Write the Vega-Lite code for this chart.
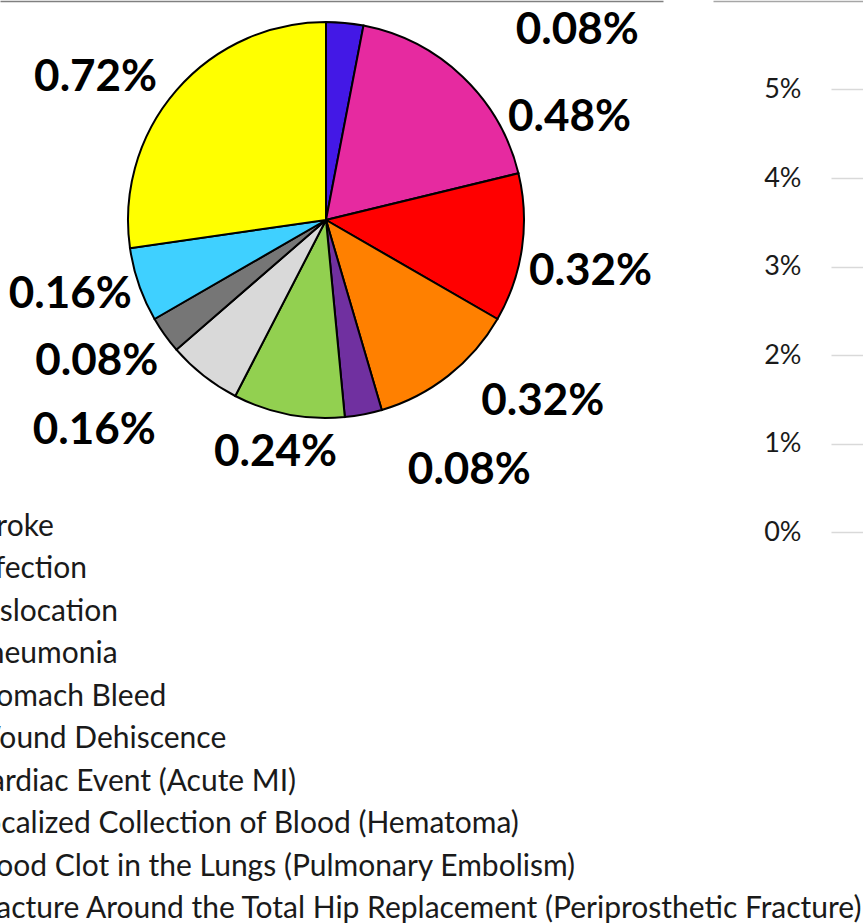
{
  "$schema": "https://vega.github.io/schema/vega-lite/v6.json",
  "padding": 0,
  "bounds": "flush",
  "spacing": 831,
  "config": {"view": {"stroke": null}, "font": "Lato"},
  "datasets": {
    "pie": [
      {"order": 1, "name": "Stroke", "value": 0.0008},
      {"order": 2, "name": "Infection", "value": 0.0048},
      {"order": 3, "name": "Dislocation", "value": 0.0032},
      {"order": 4, "name": "Pneumonia", "value": 0.0032},
      {"order": 5, "name": "Stomach Bleed", "value": 0.0008},
      {"order": 6, "name": "Wound Dehiscence", "value": 0.0024},
      {"order": 7, "name": "Cardiac Event (Acute MI)", "value": 0.0016},
      {"order": 8, "name": "Localized Collection of Blood (Hematoma)", "value": 0.0008},
      {"order": 9, "name": "Blood Clot in the Lungs (Pulmonary Embolism)", "value": 0.0016},
      {"order": 10, "name": "Fracture Around the Total Hip Replacement (Periprosthetic Fracture)", "value": 0.0072}
    ],
    "empty": []
  },
  "hconcat": [
    {
      "bounds": "flush",
      "spacing": 0,
      "vconcat": [
        {
          "width": 652, "height": 440,
          "layer": [
            {
              "data": {"name": "empty"},
              "mark": "point",
              "encoding": {"x": {"field": "v", "type": "quantitative", "scale": {"domain": [0, 1], "range": [0, 663]},
                "axis": {"orient": "top", "offset": -1, "labels": false, "ticks": false, "grid": false, "title": null, "domainColor": "#808080", "domainWidth": 1.5}}}
            },
            {
              "data": {"name": "pie"},
              "encoding": {
                "theta": {"field": "value", "type": "quantitative", "stack": true},
                "order": {"field": "order", "type": "quantitative", "sort": "ascending"}
              },
              "layer": [
                {
                  "mark": {"type": "arc", "radius": 198, "stroke": "#000000", "strokeWidth": 2},
                  "encoding": {"color": {"field": "name", "type": "nominal", "legend": null,
                    "scale": {
                      "domain": ["Stroke", "Infection", "Dislocation", "Pneumonia", "Stomach Bleed", "Wound Dehiscence", "Cardiac Event (Acute MI)", "Localized Collection of Blood (Hematoma)", "Blood Clot in the Lungs (Pulmonary Embolism)", "Fracture Around the Total Hip Replacement (Periprosthetic Fracture)"],
                      "range": ["#4318e6", "#e62aa0", "#ff0000", "#ff8000", "#7030a0", "#92d050", "#d9d9d9", "#767676", "#3fd0ff", "#ffff00"]
                    }}}
                },
                {"mark": {"type": "text", "radius": 150, "dx": 237, "dy": -40, "font": "Lato", "fontWeight": "bold", "fontSize": 44, "fill": "#000000", "align": "center", "baseline": "middle"},
                 "encoding": {"text": {"condition": {"test": "datum.order === 1", "field": "value", "type": "quantitative", "format": ".2%"}, "value": ""}}},
                {"mark": {"type": "text", "radius": 150, "dx": 140, "dy": 7, "font": "Lato", "fontWeight": "bold", "fontSize": 44, "fill": "#000000", "align": "center", "baseline": "middle"},
                 "encoding": {"text": {"condition": {"test": "datum.order === 2", "field": "value", "type": "quantitative", "format": ".2%"}, "value": ""}}},
                {"mark": {"type": "text", "radius": 150, "dx": 116, "dy": 31, "font": "Lato", "fontWeight": "bold", "fontSize": 44, "fill": "#000000", "align": "center", "baseline": "middle"},
                 "encoding": {"text": {"condition": {"test": "datum.order === 3", "field": "value", "type": "quantitative", "format": ".2%"}, "value": ""}}},
                {"mark": {"type": "text", "radius": 150, "dx": 124, "dy": 64, "font": "Lato", "fontWeight": "bold", "fontSize": 44, "fill": "#000000", "align": "center", "baseline": "middle"},
                 "encoding": {"text": {"condition": {"test": "datum.order === 4", "field": "value", "type": "quantitative", "format": ".2%"}, "value": ""}}},
                {"mark": {"type": "text", "radius": 150, "dx": 115, "dy": 104, "font": "Lato", "fontWeight": "bold", "fontSize": 44, "fill": "#000000", "align": "center", "baseline": "middle"},
                 "encoding": {"text": {"condition": {"test": "datum.order === 5", "field": "value", "type": "quantitative", "format": ".2%"}, "value": ""}}},
                {"mark": {"type": "text", "radius": 150, "dx": -22, "dy": 86, "font": "Lato", "fontWeight": "bold", "fontSize": 44, "fill": "#000000", "align": "center", "baseline": "middle"},
                 "encoding": {"text": {"condition": {"test": "datum.order === 6", "field": "value", "type": "quantitative", "format": ".2%"}, "value": ""}}},
                {"mark": {"type": "text", "radius": 150, "dx": -139, "dy": 93, "font": "Lato", "fontWeight": "bold", "fontSize": 44, "fill": "#000000", "align": "center", "baseline": "middle"},
                 "encoding": {"text": {"condition": {"test": "datum.order === 7", "field": "value", "type": "quantitative", "format": ".2%"}, "value": ""}}},
                {"mark": {"type": "text", "radius": 150, "dx": -107, "dy": 55, "font": "Lato", "fontWeight": "bold", "fontSize": 44, "fill": "#000000", "align": "center", "baseline": "middle"},
                 "encoding": {"text": {"condition": {"test": "datum.order === 8", "field": "value", "type": "quantitative", "format": ".2%"}, "value": ""}}},
                {"mark": {"type": "text", "radius": 150, "dx": -114, "dy": 26, "font": "Lato", "fontWeight": "bold", "fontSize": 44, "fill": "#000000", "align": "center", "baseline": "middle"},
                 "encoding": {"text": {"condition": {"test": "datum.order === 9", "field": "value", "type": "quantitative", "format": ".2%"}, "value": ""}}},
                {"mark": {"type": "text", "radius": 150, "dx": -117, "dy": -44, "font": "Lato", "fontWeight": "bold", "fontSize": 44, "fill": "#000000", "align": "center", "baseline": "middle"},
                 "encoding": {"text": {"condition": {"test": "datum.order === 10", "field": "value", "type": "quantitative", "format": ".2%"}, "value": ""}}}
              ]
            }
          ]
        },
        {
          "width": 863, "height": 483,
          "data": {"name": "pie"},
          "mark": {"type": "text", "align": "left", "baseline": "middle", "dx": -30, "font": "Lato", "fontSize": 30, "fill": "#1a1a1a", "clip": true},
          "encoding": {
            "y": {"field": "name", "type": "nominal", "sort": {"field": "order"}, "scale": {"type": "point", "padding": 0, "range": [87, 469]}, "axis": null},
            "x": {"value": 0},
            "text": {"field": "name"}
          }
        }
      ]
    },
    {
      "width": 32, "height": 440,
      "data": {"name": "empty"},
      "mark": "point",
      "encoding": {
        "x": {"field": "v", "type": "quantitative", "scale": {"domain": [0, 1], "range": [-118, 32]},
          "axis": {"orient": "top", "offset": -1, "labels": false, "ticks": false, "grid": false, "title": null, "domainColor": "#a6a6a6", "domainWidth": 1.5}},
        "y": {"field": "w", "type": "quantitative",
          "scale": {"domain": [0, 0.06], "range": [532, 1]},
          "axis": {"orient": "left", "offset": -32, "values": [0, 0.01, 0.02, 0.03, 0.04, 0.05], "format": ".0%", "grid": false, "domain": false, "ticks": true, "tickSize": 32, "tickColor": "#d9d9d9", "tickWidth": 1.3, "labelPadding": 30, "labelFontSize": 27, "labelFont": "Lato", "labelColor": "#1a1a1a", "title": null}}
      }
    }
  ]
}
